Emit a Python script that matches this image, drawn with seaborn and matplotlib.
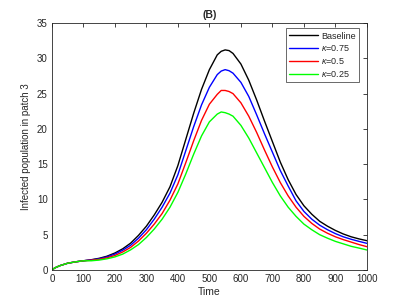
import pandas as pd
import matplotlib
matplotlib.use("Agg")
import matplotlib.pyplot as plt
import seaborn as sns

# time points
time = [0, 10, 25, 50, 75, 100, 125, 150, 175, 200, 225, 250, 275, 300, 325, 350,
        375, 400, 425, 450, 475, 500, 525, 537.5, 550, 562.5, 575, 600, 625, 650, 675,
        700, 725, 750, 775, 800, 825, 850, 875, 900, 925, 950, 975, 1000]

early = [0, 0.3, 0.6, 0.95, 1.15, 1.3]

baseline = early + [1.45, 1.65, 1.95, 2.4, 3.0, 3.8, 4.9, 6.2, 7.8, 9.6, 11.8, 14.8,
                    18.5, 22.2, 25.6, 28.4, 30.5, 31.0, 31.2, 31.1, 30.7, 29.2, 26.9,
                    24.1, 21.1, 18.2, 15.3, 12.8, 10.7, 9.1, 7.9, 6.9, 6.2, 5.6, 5.1,
                    4.7, 4.4, 4.15]
kappa_075 = early + [1.42, 1.58, 1.85, 2.25, 2.8, 3.5, 4.5, 5.7, 7.2, 8.9, 10.9, 13.5,
                     16.9, 20.3, 23.4, 25.9, 27.7, 28.2, 28.4, 28.25, 27.9, 26.6, 24.6,
                     22.0, 19.3, 16.7, 14.1, 11.9, 9.8, 8.3, 7.2, 6.35, 5.7, 5.15, 4.7,
                     4.35, 4.05, 3.77]
kappa_05 = early + [1.38, 1.5, 1.72, 2.05, 2.55, 3.2, 4.1, 5.2, 6.5, 8.0, 9.9, 12.2,
                    15.2, 18.3, 21.2, 23.5, 24.9, 25.45, 25.45, 25.3, 25.0, 23.7, 21.8,
                    19.5, 17.0, 14.6, 12.4, 10.5, 8.9, 7.6, 6.6, 5.8, 5.2, 4.7, 4.3,
                    3.95, 3.6, 3.3]
kappa_025 = early + [1.3, 1.4, 1.58, 1.85, 2.25, 2.85, 3.6, 4.6, 5.8, 7.2, 8.9, 11.0,
                     13.6, 16.4, 19.0, 21.0, 22.1, 22.4, 22.3, 22.1, 21.8, 20.5, 18.7,
                     16.6, 14.5, 12.4, 10.5, 8.9, 7.6, 6.5, 5.7, 5.0, 4.5, 4.05, 3.7,
                     3.35, 3.1, 2.83]

labels = ["Baseline", r"$\kappa$=0.75", r"$\kappa$=0.5", r"$\kappa$=0.25"]
colors = ["#000000", "#0000ff", "#ff0000", "#00ff00"]

frames = []
for lab, vals in zip(labels, [baseline, kappa_075, kappa_05, kappa_025]):
    frames.append(pd.DataFrame({"Time": time, "value": vals, "scenario": lab}))
df = pd.concat(frames, ignore_index=True)

sns.set_style("white")
plt.rcParams["font.family"] = ["Liberation Sans", "DejaVu Sans"]
plt.rcParams["mathtext.fontset"] = "custom"
plt.rcParams["mathtext.it"] = "Liberation Sans:italic"

fig = plt.figure(figsize=(4.05, 3.04), dpi=100)
ax = fig.add_axes([0.128, 0.112, 0.778, 0.812])

sns.lineplot(data=df, x="Time", y="value", hue="scenario", palette=colors,
             linewidth=1.0, ax=ax)

ax.set_xlim(0, 1000)
ax.set_ylim(0, 35)
ax.set_xticks(range(0, 1001, 100))
ax.set_yticks(range(0, 36, 5))
ax.tick_params(direction="in", length=3, width=0.6, labelsize=7, colors="#262626",
               top=True, right=True, pad=3)
for s in ax.spines.values():
    s.set_linewidth(0.6)
    s.set_color("#262626")

ax.set_xlabel("Time", fontsize=7.5, color="#262626", labelpad=2)
ax.set_ylabel("Infected population in patch 3", fontsize=7, color="#262626", labelpad=4)
ax.set_title("(B)", fontsize=7.5, fontweight="bold", pad=4)

leg = ax.legend(loc="upper right", bbox_to_anchor=(0.975, 0.98), fontsize=6.5,
                frameon=True, fancybox=False, handlelength=3.2, borderpad=0.4,
                labelspacing=0.3, handletextpad=0.3, borderaxespad=0)
leg.get_frame().set_edgecolor("#262626")
leg.get_frame().set_linewidth(0.6)

fig.savefig("out.png", dpi=100)
